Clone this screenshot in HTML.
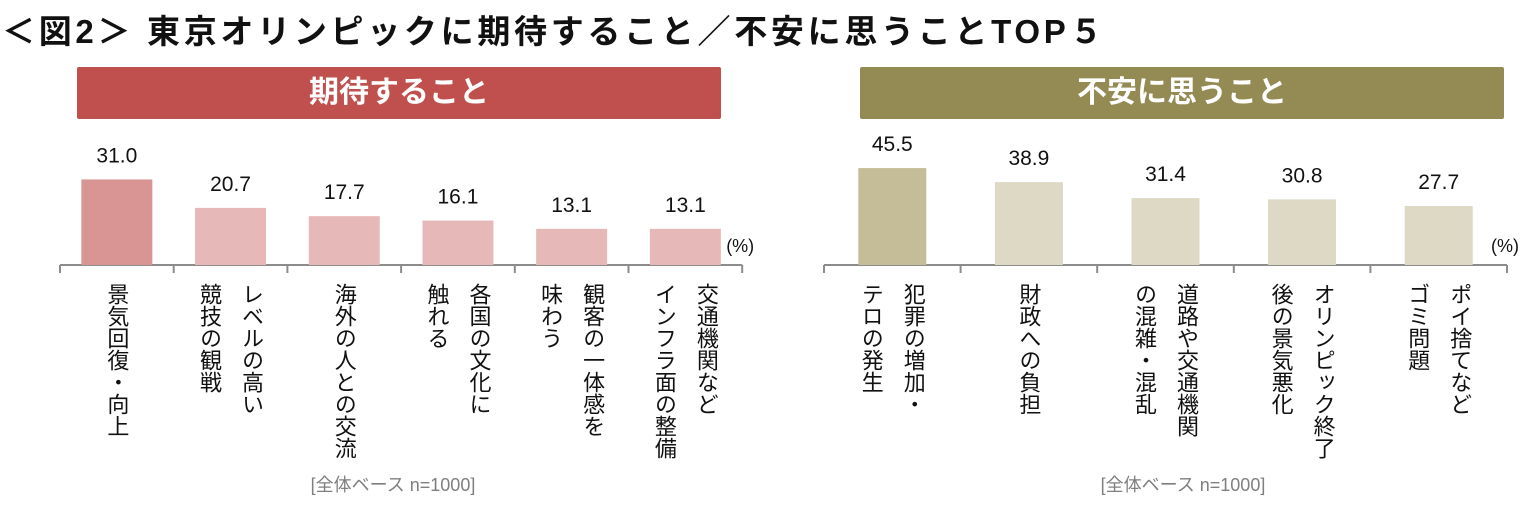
<!DOCTYPE html>
<html><head><meta charset="utf-8"><style>
body{margin:0;background:#fff;width:1524px;height:505px;overflow:hidden;position:relative;font-family:"Liberation Sans","Noto Sans CJK JP",sans-serif}
.abs{position:absolute}
#title{left:2px;top:5px;font-size:33px;font-weight:bold;color:#111;white-space:nowrap;letter-spacing:3.7px}
.hdr{top:67px;height:52px;color:#fff;font-size:30px;font-weight:bold;text-align:center;line-height:52px;border-radius:2px}
.foot{top:471px;font-size:18px;color:#7f7f7f;white-space:nowrap;transform:translateX(-50%)}
</style></head><body>
<div id="title" class="abs">＜図2＞ 東京オリンピックに期待すること／不安に思うことTOP５</div>
<div class="abs hdr" style="left:77px;width:644px;background:#c0504d">期待すること</div>
<div class="abs hdr" style="left:860px;width:644px;background:#948a54">不安に思うこと</div>
<div class="abs foot" style="left:393px">[全体ベース n=1000]</div>
<div class="abs foot" style="left:1183px">[全体ベース n=1000]</div>
<svg id="svg" class="abs" style="left:0;top:0" width="1524" height="505"></svg>
<script>
const leftCats=[["景気回復・向上"],["レベルの高い","競技の観戦"],["海外の人との交流"],["各国の文化に","触れる"],["観客の一体感を","味わう"],["交通機関など","インフラ面の整備"]];
const leftVals=[31.0,20.7,17.7,16.1,13.1,13.1];
const rightCats=[["犯罪の増加・","テロの発生"],["財政への負担"],["道路や交通機関","の混雑・混乱"],["オリンピック終了","後の景気悪化"],["ポイ捨てなど","ゴミ問題"]];
const rightVals=[45.5,38.9,31.4,30.8,27.7];
const NS="http://www.w3.org/2000/svg";
const svg=document.getElementById('svg');
function mk(t,a){const e=document.createElementNS(NS,t);for(const k in a)e.setAttribute(k,a[k]);svg.appendChild(e);return e;}
function chart(cats,vals,x0,step,bw,scale,c1,c2,side){
  const base=265;
  const xs=i=>x0+step*(i+0.5);
  const ys=v=>base-v*scale;
  const ax=mk('line',{x1:x0,y1:base,x2:x0+step*cats.length,y2:base,stroke:'#8c8c8c','stroke-width':2});
  
  for(let i=0;i<=cats.length;i++){const t=mk('line',{x1:x0+step*i,y1:base,x2:x0+step*i,y2:base+8,stroke:'#8c8c8c','stroke-width':2});
    }
  vals.forEach((v,i)=>{
    const r=mk('rect',{x:xs(i)-bw/2,y:ys(v),width:bw,height:v*scale,fill:i==0?c1:c2});
    
    const t=mk('text',{x:xs(i),y:ys(v)-17,'text-anchor':'middle','font-size':21,fill:'#111'});
    t.textContent=v.toFixed(1);
    
  });
  cats.forEach((lines,i)=>{
    const n=lines.length;
    lines.forEach((s,j)=>{
      const cx=xs(i)+(n==1?0:(j==0?21:-21));
      const t=mk('text',{x:cx,y:283,'font-size':22,fill:'#111','writing-mode':'tb','glyph-orientation-vertical':0,style:'writing-mode:vertical-rl;text-orientation:upright'});
      t.textContent=s;
      
    });
  });
  const p=mk('text',{x:x0+step*cats.length-16,y:252,'font-size':18,fill:'#111'});
  p.textContent='(%)';
}
chart(leftCats,leftVals,60,113.7,71,2.76,'#d99594','#e6b9b8','left');
chart(rightCats,rightVals,824,136.6,68,2.13,'#c4bd97','#ddd9c4','right');
</script>
</body></html>
